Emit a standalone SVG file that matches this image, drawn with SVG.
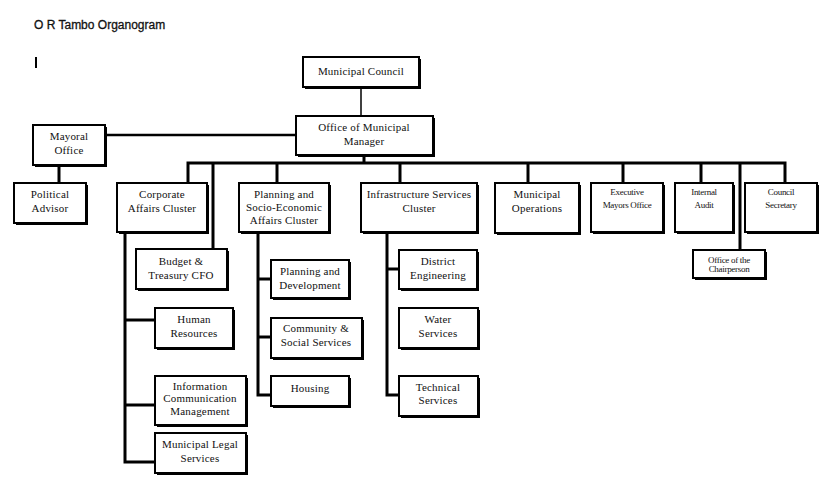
<svg xmlns="http://www.w3.org/2000/svg" width="828" height="477" viewBox="0 0 828 477">
<defs>
<style>
.sh{fill:#000}
.bx{fill:#fff;stroke:#000;stroke-width:2}
.t{font-family:"Liberation Serif","Times New Roman",serif;font-size:11px;fill:#111;text-anchor:middle;letter-spacing:0.2px}
.s{font-family:"Liberation Serif","Times New Roman",serif;font-size:9px;fill:#111;text-anchor:middle;letter-spacing:-0.3px}
.c{fill:none;stroke:#000;stroke-width:3;stroke-linejoin:miter}
</style>
</defs>
<rect width="828" height="477" fill="#fff"/>
<text x="34" y="29" font-family="Liberation Sans, Arial, sans-serif" font-size="12" fill="#111" stroke="#111" stroke-width="0.3">O R Tambo Organogram</text>
<rect x="35" y="57" width="2" height="11" fill="#000"/>

<g id="connectors">
<line x1="361" y1="87" x2="361" y2="117" stroke="#000" stroke-width="1.5"/>
<line x1="105" y1="135" x2="296" y2="135" stroke="#000" stroke-width="2.5"/>
<line x1="59" y1="165" x2="59" y2="184" class="c"/>
<line x1="364" y1="155" x2="364" y2="163" class="c"/>
<polyline class="c" points="188,184 188,163 785,163 785,184"/>
<line x1="213" y1="163" x2="213" y2="250" class="c"/>
<line x1="277" y1="163" x2="277" y2="184" class="c"/>
<line x1="400" y1="163" x2="400" y2="184" class="c"/>
<line x1="528" y1="163" x2="528" y2="184" class="c"/>
<line x1="623" y1="163" x2="623" y2="184" class="c"/>
<line x1="701" y1="163" x2="701" y2="184" class="c"/>
<line x1="740" y1="163" x2="740" y2="251" class="c"/>
<polyline class="c" points="125,232 125,462 155,462"/>
<line x1="125" y1="320" x2="155" y2="320" class="c"/>
<line x1="125" y1="405" x2="155" y2="405" class="c"/>
<polyline class="c" points="258,232 258,395 271,395"/>
<line x1="258" y1="279" x2="271" y2="279" class="c"/>
<line x1="258" y1="337" x2="271" y2="337" class="c"/>
<polyline class="c" points="387,232 387,395 399,395"/>
<line x1="387" y1="269" x2="399" y2="269" class="c"/>
</g>

<g id="municipal-council"><rect class="sh" x="305" y="59" width="116" height="30"/><rect class="bx" x="303" y="57" width="116" height="30"/><text class="t" x="361" y="75">Municipal Council</text></g>
<g id="office-municipal-manager"><rect class="sh" x="298" y="118" width="137" height="39"/><rect class="bx" x="296" y="116" width="137" height="39"/><text class="t" x="364" y="131">Office of Municipal</text><text class="t" x="364" y="145">Manager</text></g>
<g id="mayoral-office"><rect class="sh" x="35" y="127" width="72" height="40"/><rect class="bx" x="33" y="125" width="72" height="40"/><text class="t" x="69" y="140">Mayoral</text><text class="t" x="69" y="154">Office</text></g>
<g id="political-advisor"><rect class="sh" x="16" y="185" width="72" height="40"/><rect class="bx" x="14" y="183" width="72" height="40"/><text class="t" x="50" y="198">Political</text><text class="t" x="50" y="212">Advisor</text></g>
<g id="corporate-affairs"><rect class="sh" x="119" y="185" width="90" height="49"/><rect class="bx" x="117" y="183" width="90" height="49"/><text class="t" x="162" y="198">Corporate</text><text class="t" x="162" y="212">Affairs Cluster</text></g>
<g id="planning-socio"><rect class="sh" x="241" y="185" width="90" height="49"/><rect class="bx" x="239" y="183" width="90" height="49"/><text class="t" x="284" y="198">Planning and</text><text class="t" x="284" y="211">Socio-Economic</text><text class="t" x="284" y="224">Affairs Cluster</text></g>
<g id="infrastructure"><rect class="sh" x="363" y="185" width="116" height="49"/><rect class="bx" x="361" y="183" width="116" height="49"/><text class="t" x="419" y="198">Infrastructure Services</text><text class="t" x="419" y="212">Cluster</text></g>
<g id="municipal-operations"><rect class="sh" x="497" y="185" width="84" height="50"/><rect class="bx" x="495" y="183" width="84" height="50"/><text class="t" x="537" y="198">Municipal</text><text class="t" x="537" y="212">Operations</text></g>
<g id="executive-mayors"><rect class="sh" x="593" y="185" width="72" height="49"/><rect class="bx" x="591" y="183" width="72" height="49"/><text class="s" x="627" y="195">Executive</text><text class="s" x="627" y="208">Mayors Office</text></g>
<g id="internal-audit"><rect class="sh" x="677" y="185" width="58" height="49"/><rect class="bx" x="675" y="183" width="58" height="49"/><text class="s" x="704" y="195">Internal</text><text class="s" x="704" y="208">Audit</text></g>
<g id="council-secretary"><rect class="sh" x="747" y="185" width="72" height="49"/><rect class="bx" x="745" y="183" width="72" height="49"/><text class="s" x="781" y="195">Council</text><text class="s" x="781" y="208">Secretary</text></g>
<g id="office-chairperson"><rect class="sh" x="695" y="252" width="72" height="28"/><rect class="bx" x="693" y="250" width="72" height="28"/><text class="s" x="729" y="263" font-size="8.5">Office of the</text><text class="s" x="729" y="272" font-size="8.5">Chairperson</text></g>
<g id="budget-treasury"><rect class="sh" x="138" y="251" width="91" height="40"/><rect class="bx" x="136" y="249" width="91" height="40"/><text class="t" x="181" y="265">Budget &amp;</text><text class="t" x="181" y="279">Treasury CFO</text></g>
<g id="human-resources"><rect class="sh" x="157" y="310" width="78" height="40"/><rect class="bx" x="155" y="308" width="78" height="40"/><text class="t" x="194" y="323">Human</text><text class="t" x="194" y="337">Resources</text></g>
<g id="icm"><rect class="sh" x="157" y="378" width="91" height="49"/><rect class="bx" x="155" y="376" width="91" height="49"/><text class="t" x="200" y="390">Information</text><text class="t" x="200" y="402">Communication</text><text class="t" x="200" y="415">Management</text></g>
<g id="legal-services"><rect class="sh" x="157" y="435" width="91" height="40"/><rect class="bx" x="155" y="433" width="91" height="40"/><text class="t" x="200" y="448">Municipal Legal</text><text class="t" x="200" y="462">Services</text></g>
<g id="planning-development"><rect class="sh" x="273" y="262" width="78" height="38"/><rect class="bx" x="271" y="260" width="78" height="38"/><text class="t" x="310" y="275">Planning and</text><text class="t" x="310" y="289">Development</text></g>
<g id="community-social"><rect class="sh" x="273" y="320" width="91" height="40"/><rect class="bx" x="271" y="318" width="91" height="40"/><text class="t" x="316" y="332">Community &amp;</text><text class="t" x="316" y="346">Social Services</text></g>
<g id="housing"><rect class="sh" x="273" y="378" width="78" height="30"/><rect class="bx" x="271" y="376" width="78" height="30"/><text class="t" x="310" y="392">Housing</text></g>
<g id="district-engineering"><rect class="sh" x="401" y="252" width="78" height="39"/><rect class="bx" x="399" y="250" width="78" height="39"/><text class="t" x="438" y="265">District</text><text class="t" x="438" y="279">Engineering</text></g>
<g id="water-services"><rect class="sh" x="401" y="310" width="79" height="40"/><rect class="bx" x="399" y="308" width="79" height="40"/><text class="t" x="438" y="323">Water</text><text class="t" x="438" y="337">Services</text></g>
<g id="technical-services"><rect class="sh" x="401" y="378" width="79" height="40"/><rect class="bx" x="399" y="376" width="79" height="40"/><text class="t" x="438" y="391">Technical</text><text class="t" x="438" y="404">Services</text></g>
</svg>
